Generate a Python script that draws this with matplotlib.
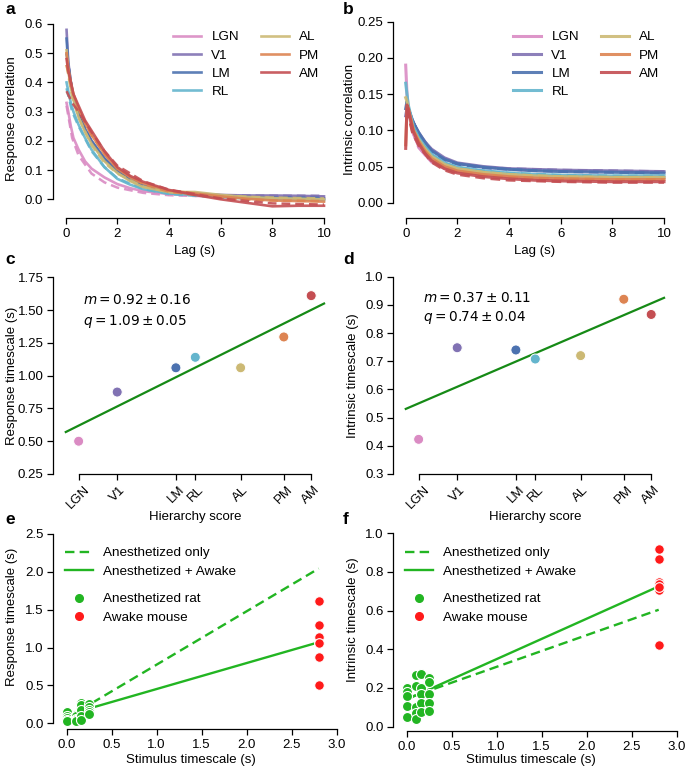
import matplotlib
matplotlib.use('Agg')
import matplotlib.pyplot as plt
from matplotlib.lines import Line2D
import numpy as np

plt.rcParams['font.family'] = ['Liberation Sans', 'DejaVu Sans']
plt.rcParams['mathtext.fontset'] = 'dejavusans'

# ---------------- data ----------------
areas = ['LGN', 'V1', 'LM', 'RL', 'AL', 'PM', 'AM']
area_colors = ['#DA8BC3', '#8172B3', '#4C72B0', '#64B5CD', '#CCB974', '#DD8452', '#C44E52']

# panel a: response correlation vs lag (data, solid)
lag_a = [0.033, 0.1, 0.2, 0.3, 0.5, 0.75, 1.0, 1.5, 2.0, 2.5, 3.0, 4.0, 5.0, 6.0, 7.0, 8.0, 9.0, 10.0]
resp_LGN = [0.33, 0.30, 0.25, 0.21, 0.17, 0.13, 0.105, 0.075, 0.052, 0.038, 0.028, 0.018, 0.015, 0.012, 0.008, 0.006, 0.005, 0.003]
resp_V1 = [0.58, 0.47, 0.40, 0.35, 0.29, 0.24, 0.20, 0.14, 0.10, 0.07, 0.048, 0.025, 0.02, 0.015, 0.013, 0.013, 0.012, 0.01]
resp_LM = [0.55, 0.46, 0.40, 0.35, 0.29, 0.24, 0.20, 0.14, 0.095, 0.065, 0.045, 0.022, 0.017, 0.01, 0.006, 0.004, 0.004, 0.002]
resp_RL = [0.40, 0.37, 0.33, 0.30, 0.255, 0.21, 0.17, 0.11, 0.07, 0.05, 0.035, 0.02, 0.015, 0.008, 0.003, 0.0, 0.0, -0.003]
resp_AL = [0.51, 0.44, 0.38, 0.34, 0.28, 0.23, 0.19, 0.13, 0.09, 0.062, 0.042, 0.025, 0.025, 0.015, 0.008, 0.004, 0.002, 0.0]
resp_PM = [0.50, 0.45, 0.40, 0.36, 0.31, 0.26, 0.22, 0.155, 0.105, 0.075, 0.055, 0.03, 0.02, 0.01, 0.002, -0.004, -0.006, -0.008]
resp_AM = [0.48, 0.44, 0.40, 0.36, 0.32, 0.27, 0.235, 0.165, 0.11, 0.08, 0.06, 0.032, 0.015, 0.0, -0.012, -0.024, -0.022, -0.022]

# panel a: fitted curves (dashed)
lag_a_fit = [0.033, 0.25, 0.5, 1.0, 1.5, 2.0, 3.0, 4.0, 6.0, 8.0, 10.0]
respfit_LGN = [0.32, 0.21, 0.15, 0.088, 0.058, 0.040, 0.022, 0.014, 0.009, 0.008, 0.008]
respfit_V1 = [0.50, 0.37, 0.29, 0.195, 0.135, 0.095, 0.048, 0.026, 0.014, 0.012, 0.012]
respfit_LM = [0.50, 0.37, 0.29, 0.195, 0.135, 0.093, 0.046, 0.024, 0.010, 0.006, 0.005]
respfit_RL = [0.38, 0.30, 0.25, 0.165, 0.11, 0.072, 0.035, 0.018, 0.006, 0.002, 0.0]
respfit_AL = [0.46, 0.35, 0.28, 0.185, 0.125, 0.088, 0.044, 0.024, 0.012, 0.006, 0.003]
respfit_PM = [0.46, 0.37, 0.31, 0.22, 0.155, 0.105, 0.052, 0.026, 0.004, -0.004, -0.006]
respfit_AM = [0.37, 0.33, 0.30, 0.23, 0.165, 0.115, 0.062, 0.033, 0.003, -0.014, -0.018]

# panel b: intrinsic correlation vs lag (data, solid)
lag_b = [0.0, 0.05, 0.1, 0.2, 0.3, 0.5, 0.75, 1.0, 1.5, 2.0, 3.0, 4.0, 5.0, 6.0, 8.0, 10.0]
intr_LGN = [0.19, 0.15, 0.13, 0.11, 0.095, 0.078, 0.066, 0.058, 0.049, 0.044, 0.040, 0.037, 0.036, 0.035, 0.034, 0.034]
intr_V1 = [0.12, 0.13, 0.13, 0.12, 0.11, 0.097, 0.084, 0.074, 0.062, 0.055, 0.050, 0.047, 0.046, 0.045, 0.044, 0.043]
intr_LM = [0.13, 0.14, 0.13, 0.12, 0.11, 0.097, 0.083, 0.072, 0.060, 0.054, 0.049, 0.046, 0.044, 0.043, 0.042, 0.041]
intr_RL = [0.165, 0.15, 0.135, 0.12, 0.105, 0.09, 0.077, 0.067, 0.055, 0.049, 0.044, 0.041, 0.039, 0.038, 0.037, 0.037]
intr_AL = [0.145, 0.14, 0.13, 0.115, 0.10, 0.087, 0.074, 0.064, 0.053, 0.047, 0.042, 0.039, 0.037, 0.036, 0.035, 0.035]
intr_PM = [0.08, 0.13, 0.13, 0.115, 0.10, 0.085, 0.071, 0.061, 0.050, 0.044, 0.039, 0.036, 0.034, 0.033, 0.032, 0.032]
intr_AM = [0.075, 0.135, 0.13, 0.113, 0.098, 0.082, 0.068, 0.058, 0.047, 0.041, 0.036, 0.033, 0.031, 0.030, 0.029, 0.029]

# panel b: fitted curves (dashed)
lag_b_fit = [0.05, 0.25, 0.5, 1.0, 1.5, 2.0, 3.0, 4.0, 6.0, 8.0, 10.0]
intrfit_LGN = [0.14, 0.10, 0.076, 0.056, 0.047, 0.043, 0.039, 0.037, 0.035, 0.034, 0.034]
intrfit_V1 = [0.13, 0.115, 0.095, 0.073, 0.061, 0.054, 0.049, 0.047, 0.045, 0.044, 0.043]
intrfit_LM = [0.135, 0.115, 0.095, 0.071, 0.059, 0.053, 0.048, 0.046, 0.043, 0.042, 0.041]
intrfit_RL = [0.14, 0.11, 0.088, 0.066, 0.055, 0.049, 0.044, 0.041, 0.038, 0.037, 0.037]
intrfit_AL = [0.135, 0.105, 0.085, 0.063, 0.052, 0.047, 0.042, 0.039, 0.036, 0.035, 0.035]
intrfit_PM = [0.13, 0.10, 0.082, 0.060, 0.049, 0.043, 0.038, 0.035, 0.033, 0.032, 0.032]
intrfit_AM = [0.13, 0.098, 0.079, 0.056, 0.045, 0.039, 0.034, 0.031, 0.029, 0.028, 0.028]

# panels c, d
hierarchy_score = [-0.512, -0.353, -0.111, -0.031, 0.156, 0.334, 0.447]
response_timescale = [0.50, 0.875, 1.06, 1.14, 1.06, 1.295, 1.61]
intrinsic_timescale = [0.423, 0.748, 0.740, 0.708, 0.720, 0.920, 0.866]
resp_fit_m, resp_fit_q = 0.92, 1.09
intr_fit_m, intr_fit_q = 0.37, 0.74
hier_fit_range = [-0.565, 0.50]

# panels e, f
rat_stim_timescale = [0.0] * 5 + [0.1] * 5 + [0.16] * 5 + [0.25] * 5
rat_response_timescale = [0.15, 0.10, 0.07, 0.05, 0.03,
                          0.11, 0.09, 0.06, 0.04, 0.03,
                          0.27, 0.24, 0.18, 0.10, 0.05,
                          0.26, 0.22, 0.18, 0.15, 0.12]
rat_intrinsic_timescale = [0.20, 0.18, 0.16, 0.105, 0.048,
                           0.265, 0.21, 0.10, 0.07, 0.038,
                           0.27, 0.20, 0.17, 0.12, 0.074,
                           0.25, 0.23, 0.17, 0.123, 0.08]
mouse_stim_timescale = 2.8
e_fit_anest = (0.705, 0.07)      # slope, intercept
e_fit_all = (0.343, 0.11)
f_fit_anest = (0.164, 0.145)
f_fit_all = (0.209, 0.14)
stim_fit_range = [0.0, 2.8]

# ---------------- layout ----------------
W, H = 685, 770
fig = plt.figure(figsize=(W / 100, H / 100), dpi=100)

TICK_FS = 9.5
LAB_FS = 9.5
LEG_FS = 9.7
SPINE_LW = 0.9


def place(ax, xpx, xdat, ypx, ydat, yspine_px, xspine_px, right_px, top_px, offy, offx):
    left = yspine_px + offy
    bottom = xspine_px - offx
    sx = (xdat[1] - xdat[0]) / (xpx[1] - xpx[0])
    sy = (ydat[1] - ydat[0]) / (ypx[1] - ypx[0])
    ax.set_position([left / W, 1 - bottom / H, (right_px - left) / W, (bottom - top_px) / H])
    ax.set_xlim(xdat[0] + (left - xpx[0]) * sx, xdat[0] + (right_px - xpx[0]) * sx)
    ax.set_ylim(ydat[0] + (bottom - ypx[0]) * sy, ydat[0] + (top_px - ypx[0]) * sy)
    for s in ['top', 'right']:
        ax.spines[s].set_visible(False)
    ax.spines['left'].set_position(('outward', offy * 0.72))
    ax.spines['bottom'].set_position(('outward', offx * 0.72))
    for s in ['left', 'bottom']:
        ax.spines[s].set_linewidth(SPINE_LW)
    ax.tick_params(direction='out', length=4, width=SPINE_LW, labelsize=TICK_FS, pad=3)


def finish(ax, xt, yt):
    ax.set_xticks(xt)
    ax.set_yticks(yt)
    ax.spines['bottom'].set_bounds(xt[0], xt[-1])
    ax.spines['left'].set_bounds(yt[0], yt[-1])


def labels(ax, xl, xc, yl, yc):
    ax.set_xlabel(xl[0], fontsize=LAB_FS, va='center')
    ax.xaxis.set_label_coords(xc[0] / W, 1 - xc[1] / H, transform=fig.transFigure)
    ax.set_ylabel(yl[0], fontsize=LAB_FS, va='center', ha='center')
    ax.yaxis.set_label_coords(yc[0] / W, 1 - yc[1] / H, transform=fig.transFigure)


def letter(x, y, s):
    fig.text(x / W, 1 - y / H, s, fontsize=12.5, fontweight='bold', va='top', ha='left')


def area_legend(ax, x, y):
    ax.legend(loc='upper left', bbox_to_anchor=(x / W, 1 - y / H), bbox_transform=fig.transFigure,
              ncol=2, frameon=False, fontsize=LEG_FS, handlelength=2.1, handletextpad=0.75,
              columnspacing=1.6, labelspacing=0.42, borderpad=0, borderaxespad=0)


resp_data = [resp_LGN, resp_V1, resp_LM, resp_RL, resp_AL, resp_PM, resp_AM]
resp_fits = [respfit_LGN, respfit_V1, respfit_LM, respfit_RL, respfit_AL, respfit_PM, respfit_AM]
intr_data = [intr_LGN, intr_V1, intr_LM, intr_RL, intr_AL, intr_PM, intr_AM]
intr_fits = [intrfit_LGN, intrfit_V1, intrfit_LM, intrfit_RL, intrfit_AL, intrfit_PM, intrfit_AM]

# ---------------- panel a ----------------
axA = fig.add_axes([0, 0, 1, 1])
place(axA, (65.7, 324), (0, 10), (199.3, 24), (0, 0.6), 53, 218, 330, 16, 7, 7)
for name, col, d, f in zip(areas, area_colors, resp_data, resp_fits):
    axA.plot(lag_a_fit, f, color=col, lw=1.8, ls=(0, (3.5, 2)), alpha=0.9)
    axA.plot(lag_a, d, color=col, lw=1.9, alpha=0.9, label=name)
finish(axA, [0, 2, 4, 6, 8, 10], [0.0, 0.1, 0.2, 0.3, 0.4, 0.5, 0.6])
labels(axA, ['Lag (s)'], (195, 251), ['Response correlation'], (12, 119))
area_legend(axA, 173, 31)

# ---------------- panel b ----------------
axB = fig.add_axes([0, 0, 1, 1])
place(axB, (405.7, 664), (0, 10), (202.7, 21.7), (0, 0.25), 393.3, 218.3, 670, 16, 7, 7)
for name, col, d, f in zip(areas, area_colors, intr_data, intr_fits):
    axB.plot(lag_b_fit, f, color=col, lw=2.0, ls=(0, (3.5, 2)), alpha=0.9)
    axB.plot(lag_b, d, color=col, lw=2.2, alpha=0.9, label=name)
finish(axB, [0, 2, 4, 6, 8, 10], [0.0, 0.05, 0.10, 0.15, 0.20, 0.25])
axB.set_yticklabels(['0.00', '0.05', '0.10', '0.15', '0.20', '0.25'])
labels(axB, ['Lag (s)'], (535, 251), ['Intrinsic correlation'], (350, 119))
area_legend(axB, 513, 31)

# ---------------- panel c ----------------
axC = fig.add_axes([0, 0, 1, 1])
place(axC, (81.55, 324.05), (-0.5, 0.5), (474, 277.3), (0.25, 1.75), 53.3, 474, 330, 268, 7, 0)
hx = np.array(hier_fit_range)
axC.plot(hx, resp_fit_m * hx + resp_fit_q, color='#168a16', lw=1.6, zorder=1)
axC.scatter(hierarchy_score, response_timescale, c=area_colors, s=52, edgecolors='white',
            linewidths=0.7, zorder=3, clip_on=False)
axC.set_xticks(hierarchy_score)
axC.set_xticklabels(areas, rotation=45, ha='center')
axC.set_yticks([0.25, 0.5, 0.75, 1.0, 1.25, 1.5, 1.75])
axC.set_yticklabels(['0.25', '0.50', '0.75', '1.00', '1.25', '1.50', '1.75'])
axC.spines['bottom'].set_bounds(hierarchy_score[0], hierarchy_score[-1])
axC.spines['left'].set_bounds(0.25, 1.75)
labels(axC, ['Hierarchy score'], (195, 517), ['Response timescale (s)'], (12, 376))
fig.text(82.7 / W, 1 - 300 / H, r'$m = 0.92 \pm 0.16$', fontsize=9.8, va='center', ha='left')
fig.text(82.7 / W, 1 - 321 / H, r'$q = 1.09 \pm 0.05$', fontsize=9.8, va='center', ha='left')

# ---------------- panel d ----------------
axD = fig.add_axes([0, 0, 1, 1])
place(axD, (421.55, 664.05), (-0.5, 0.5), (474, 276.7), (0.3, 1.0), 393.3, 474, 670, 268, 7, 0)
axD.plot(hx, intr_fit_m * hx + intr_fit_q, color='#168a16', lw=1.6, zorder=1)
axD.scatter(hierarchy_score, intrinsic_timescale, c=area_colors, s=52, edgecolors='white',
            linewidths=0.7, zorder=3, clip_on=False)
axD.set_xticks(hierarchy_score)
axD.set_xticklabels(areas, rotation=45, ha='center')
axD.set_yticks([0.3, 0.4, 0.5, 0.6, 0.7, 0.8, 0.9, 1.0])
axD.spines['bottom'].set_bounds(hierarchy_score[0], hierarchy_score[-1])
axD.spines['left'].set_bounds(0.3, 1.0)
labels(axD, ['Hierarchy score'], (535, 517), ['Intrinsic timescale (s)'], (353, 376))
fig.text(422.7 / W, 1 - 297.7 / H, r'$m = 0.37 \pm 0.11$', fontsize=9.8, va='center', ha='left')
fig.text(422.7 / W, 1 - 317.7 / H, r'$q = 0.74 \pm 0.04$', fontsize=9.8, va='center', ha='left')

# ---------------- panels e, f ----------------
GREEN = '#22b522'
RED = '#ff1a1a'


def stim_panel(ax, rat_vals, mouse_vals, fit_anest, fit_all, leg_x):
    sx = np.array(stim_fit_range)
    ax.plot(sx, fit_anest[0] * sx + fit_anest[1], color=GREEN, lw=1.7, ls=(0, (4, 2.2)), zorder=1)
    ax.plot(sx, fit_all[0] * sx + fit_all[1], color=GREEN, lw=1.7, zorder=1)
    ax.scatter(rat_stim_timescale, rat_vals, color=GREEN, s=52, edgecolors='white',
               linewidths=0.8, zorder=3, clip_on=False)
    ax.scatter([mouse_stim_timescale] * len(mouse_vals), mouse_vals, color=RED, s=48,
               edgecolors='white', linewidths=0.8, zorder=3, clip_on=False)
    h1 = [Line2D([], [], color=GREEN, lw=1.7, ls=(0, (4, 2.2))), Line2D([], [], color=GREEN, lw=1.7)]
    leg1 = ax.legend(h1, ['Anesthetized only', 'Anesthetized + Awake'], loc='upper left',
                     bbox_to_anchor=(leg_x / W, 1 - 547 / H), bbox_transform=fig.transFigure,
                     frameon=False, fontsize=LEG_FS, handlelength=2.1, handletextpad=0.75,
                     labelspacing=0.42, borderpad=0, borderaxespad=0)
    ax.add_artist(leg1)
    h2 = [Line2D([], [], color=GREEN, marker='o', ls='none', markersize=5.5),
          Line2D([], [], color=RED, marker='o', ls='none', markersize=5.5)]
    ax.legend(h2, ['Anesthetized rat', 'Awake mouse'], loc='upper left',
              bbox_to_anchor=(leg_x / W, 1 - 593 / H), bbox_transform=fig.transFigure,
              frameon=False, fontsize=LEG_FS, handlelength=2.1, handletextpad=0.75,
              labelspacing=0.42, borderpad=0, borderaxespad=0)


axE = fig.add_axes([0, 0, 1, 1])
place(axE, (66.7, 336.7), (0, 3), (723.3, 534), (0, 2.5), 53.3, 729, 340, 528, 7, 5.7)
stim_panel(axE, rat_response_timescale, response_timescale, e_fit_anest, e_fit_all, 65)
finish(axE, [0.0, 0.5, 1.0, 1.5, 2.0, 2.5, 3.0], [0.0, 0.5, 1.0, 1.5, 2.0, 2.5])
labels(axE, ['Stimulus timescale (s)'], (191, 760), ['Response timescale (s)'], (12, 617))

axF = fig.add_axes([0, 0, 1, 1])
place(axF, (406.7, 676.7), (0, 3), (726.5, 533.3), (0, 1.0), 393.3, 731, 682, 528, 7, 4.5)
stim_panel(axF, rat_intrinsic_timescale, intrinsic_timescale, f_fit_anest, f_fit_all, 405)
finish(axF, [0.0, 0.5, 1.0, 1.5, 2.0, 2.5, 3.0], [0.0, 0.2, 0.4, 0.6, 0.8, 1.0])
labels(axF, ['Stimulus timescale (s)'], (531, 760), ['Intrinsic timescale (s)'], (353, 620))

for x, y, s in [(5, 2, 'a'), (343, 2, 'b'), (5, 252, 'c'), (343, 252, 'd'), (5, 512, 'e'), (343, 512, 'f')]:
    letter(x, y, s)

fig.savefig('out.png', dpi=100)
